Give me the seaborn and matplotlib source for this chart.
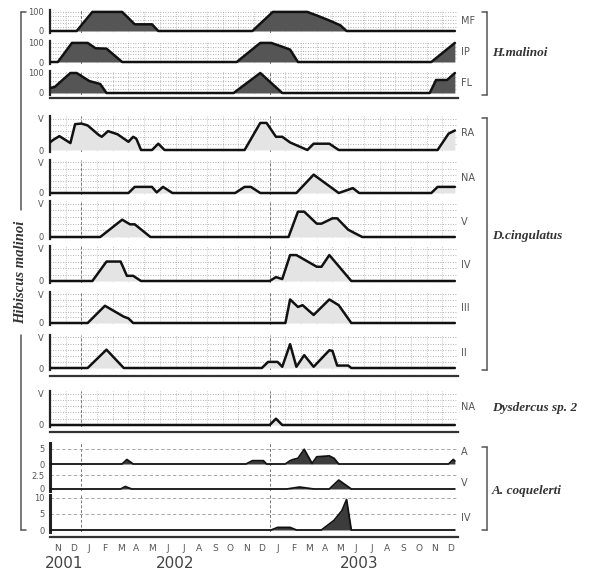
import numpy as np
import pandas as pd
import matplotlib
matplotlib.use('Agg')
import matplotlib.pyplot as plt
import seaborn as sns
from matplotlib.lines import Line2D
from matplotlib.ticker import MultipleLocator

sns.set_style('white')
plt.rcParams['font.family'] = 'DejaVu Sans'

# x axis: months from 1 Nov 2001 (0) to end of Dec 2003 (26)
months = ['N', 'D', 'J', 'F', 'M', 'A', 'M', 'J', 'J', 'A', 'S', 'O', 'N', 'D',
          'J', 'F', 'M', 'A', 'M', 'J', 'J', 'A', 'S', 'O', 'N', 'D']
years = ['2001', '2002', '2003']
year_pos = [0.9, 8.0, 19.7]

# H. malinoi phenology (%)
mf_t = [0, 1.7, 2.7, 4.6, 5.4, 6.5, 6.9, 12.9, 14.2, 16.4, 17.2, 17.8, 18.5, 18.9, 25.8]
mf_v = [0, 0, 100, 100, 35, 35, 0, 0, 100, 100, 75, 55, 30, 0, 0]
ip_t = [0, 0.5, 1.4, 2.4, 2.9, 3.6, 4.6, 11.9, 13.4, 14.1, 14.8, 15.3, 15.8, 24.3, 25.8]
ip_v = [0, 0, 100, 100, 72, 70, 0, 0, 100, 100, 80, 65, 0, 0, 100]
fl_t = [0, 0.3, 1.3, 1.7, 2.5, 3.2, 3.6, 11.7, 13.4, 14.8, 24.2, 24.6, 25.3, 25.8]
fl_v = [25, 30, 100, 100, 60, 45, 0, 0, 100, 0, 0, 65, 65, 100]

# D. cingulatus abundance classes (0-V)
ra_t = [0, 0.2, 0.6, 1.3, 1.6, 2.0, 2.4, 3.1, 3.3, 3.7, 4.3, 5.0, 5.3, 5.5, 5.8, 6.5, 6.9, 7.3,
        12.4, 13.4, 13.8, 14.4, 14.8, 15.3, 16.4, 16.8, 17.8, 18.4, 24.7, 25.4, 25.8]
ra_v = [1.2, 1.6, 2.2, 1.1, 4.1, 4.2, 3.9, 2.4, 2.1, 3.0, 2.5, 1.3, 2.1, 1.8, 0, 0, 1.0, 0,
        0, 4.3, 4.3, 2.1, 2.1, 1.2, 0, 1.0, 1.0, 0, 0, 2.6, 3.1]
na_t = [0, 5.0, 5.4, 6.5, 6.8, 7.2, 7.8, 11.8, 12.4, 12.8, 13.4, 15.7, 16.8, 18.4, 19.3, 19.7,
        24.3, 24.7, 25.8]
na_v = [0, 0, 1.0, 1.0, 0.1, 1.0, 0, 0, 1.0, 1.0, 0, 0, 3.0, 0, 0.8, 0, 0, 1.0, 1.0]
v_t = [0, 3.2, 4.6, 5.1, 5.4, 6.4, 15.2, 15.8, 16.2, 17.0, 17.3, 18.0, 18.3, 19.0, 19.4, 19.9, 25.8]
v_v = [0, 0, 2.6, 1.9, 1.9, 0, 0, 3.8, 3.8, 2.0, 2.0, 2.8, 2.8, 1.1, 0.6, 0, 0]
iv_t = [0, 2.7, 3.6, 4.5, 4.9, 5.3, 5.8, 14.0, 14.4, 14.8, 15.3, 15.7, 17.0, 17.3, 17.8, 19.2, 25.8]
iv_v = [0, 0, 3.0, 3.0, 0.8, 0.8, 0, 0, 0.6, 0.3, 4.0, 4.0, 2.2, 2.2, 4.0, 0, 0]
iii_t = [0, 2.4, 3.5, 4.7, 5.0, 5.3, 15.0, 15.3, 15.8, 16.1, 16.8, 17.8, 18.4, 19.2, 25.8]
iii_v = [0, 0, 3.0, 1.1, 0.8, 0, 0, 4.1, 2.8, 3.1, 1.4, 4.1, 3.1, 0, 0]
ii_t = [0, 2.4, 3.6, 4.7, 13.5, 13.9, 14.5, 14.8, 15.3, 15.7, 16.2, 16.8, 17.8, 18.0, 18.3,
        19.0, 19.2, 25.8]
ii_v = [0, 0, 3.0, 0, 0, 1.0, 1.0, 0.2, 3.9, 0.2, 2.1, 0.2, 2.9, 2.8, 0.4, 0.4, 0, 0]

# Dysdercus sp. 2
dys_t = [0, 14.0, 14.4, 14.8, 25.8]
dys_v = [0, 0, 1.0, 0, 0]

# A. coquelerti
aa_t = [0, 4.6, 4.9, 5.3, 12.5, 12.9, 13.6, 13.8, 15.0, 15.3, 15.5, 15.8, 16.2, 16.4, 16.7,
        17.0, 17.8, 18.1, 18.4, 25.4, 25.7, 25.8]
aa_v = [0, 0, 1.5, 0, 0, 1.1, 1.1, 0, 0, 1.1, 1.5, 1.9, 4.9, 3.0, 0.2, 2.4, 2.7, 1.9, 0, 0, 1.5, 1.0]
av_t = [0, 4.5, 4.8, 5.2, 15.1, 15.9, 16.8, 17.8, 18.4, 19.2, 25.8]
av_v = [0, 0, 0.45, 0, 0, 0.35, 0, 0, 1.6, 0, 0]
aiv_t = [0, 14.1, 14.5, 15.3, 15.7, 17.3, 17.7, 18.1, 18.6, 18.9, 19.2, 25.8]
aiv_v = [0, 0, 0.8, 0.8, 0, 0, 1.5, 3.0, 6.0, 9.5, 0, 0]

W, H = 589, 572
X0, X1 = 50, 458
fig = plt.figure(figsize=(W / 100, H / 100), dpi=100)
GRID = '#9a9a9a'
LABEL = '#555555'


def panel(t, v, top, base, ymax, kind, name, name_y, axis_gap=None, last=False):
    ax = fig.add_axes([X0 / W, 1 - (base + 2) / H, (X1 - X0) / W, (base + 2 - top) / H])
    low = -ymax * 2 / (base - top)
    ax.set_xlim(0, 26)
    ax.set_ylim(low, ymax)
    df = pd.DataFrame({'t': t, 'v': v})
    if kind == 'host':
        fill, lw = '#555555', 1.8
    elif kind == 'bug':
        fill, lw = '#e4e4e4', 1.8
    else:
        fill, lw = '#3c3c3c', 1.3
    ax.fill_between(df['t'], 0, df['v'], color=fill, lw=0, zorder=2)
    sns.lineplot(data=df, x='t', y='v', ax=ax, color='#111111', lw=lw, zorder=3)
    ax.set_xlabel('')
    ax.set_ylabel('')

    for s in ['top', 'right', 'bottom']:
        ax.spines[s].set_visible(False)
    ax.spines['left'].set_linewidth(1.6 if kind != 'acoq' else 2.2)
    ax.spines['left'].set_color('#222222')

    if kind == 'host':
        ax.set_yticks([0, 100])
        ax.set_yticklabels(['0', '100'])
        ax.yaxis.set_minor_locator(MultipleLocator(20))
    elif kind == 'bug':
        ax.set_yticks([0, 5])
        ax.set_yticklabels(['0', 'V'])
        ax.yaxis.set_minor_locator(MultipleLocator(0.5))
    ax.tick_params(axis='y', which='both', direction='out', labelsize=6, colors='#333333',
                   labelcolor=LABEL, length=2.5, width=0.8, pad=2)
    ax.tick_params(axis='y', which='minor', length=1.5)

    if kind in ('host', 'bug'):
        for yv in (np.arange(20, 101, 20) if kind == 'host' else np.arange(1, 5.1, 1)):
            ax.axhline(yv, color=GRID, ls=(0, (1, 2)), lw=0.6, zorder=1)
        for xv in range(1, 26):
            ax.axvline(xv, color=GRID, ls=(0, (1, 2)), lw=0.5, zorder=1)
        ax.axvline(26, color=GRID, ls=(0, (1, 2)), lw=0.6, zorder=1)
    for xv in (2, 14):
        ax.axvline(xv, color='#777777', ls=(0, (3, 2)), lw=0.7, zorder=1)

    ax.set_xticks(range(27))
    if axis_gap is None:
        ax.tick_params(axis='x', length=0, labelbottom=False)
    else:
        ax.spines['bottom'].set_visible(True)
        ax.spines['bottom'].set_position(('outward', axis_gap * 0.72))
        ax.spines['bottom'].set_linewidth(1.6)
        ax.spines['bottom'].set_color('#333333')
        ax.tick_params(axis='x', which='major', direction='out', length=3, width=0.8,
                       colors='#333333', labelbottom=False)
    if last:
        ax.set_xticks(np.arange(26) + 0.5, minor=True)
        ax.set_xticklabels(months, minor=True)
        ax.tick_params(axis='x', which='minor', length=0, labelsize=6.5,
                       labelcolor=LABEL, pad=5)
    fig.text(461 / W, 1 - name_y / H, name, fontsize=7, color=LABEL,
             ha='left', va='center')
    return ax


panel(mf_t, mf_v, 10, 31, 110, 'host', 'MF', 21)
panel(ip_t, ip_v, 41, 62, 110, 'host', 'IP', 52)
panel(fl_t, fl_v, 71, 93, 110, 'host', 'FL', 83, axis_gap=3)

panel(ra_t, ra_v, 116, 150, 5.4, 'bug', 'RA', 133)
panel(na_t, na_v, 160, 193, 5.4, 'bug', 'NA', 178)
panel(v_t, v_v, 201, 237, 5.4, 'bug', 'V', 222)
panel(iv_t, iv_v, 246, 281, 5.4, 'bug', 'IV', 265)
panel(iii_t, iii_v, 292, 323, 5.4, 'bug', 'III', 308)
panel(ii_t, ii_v, 335, 368, 5.4, 'bug', 'II', 353, axis_gap=6)

panel(dys_t, dys_v, 391, 425, 5.4, 'bug', 'NA', 407, axis_gap=5)

# A. coquelerti panels with their own count scales
acoq = [
    (aa_t, aa_v, 443, 464, 7, 'A', 452, None, False, [0, 5], ['0', '5']),
    (av_t, av_v, 469, 489, 3.6, 'V', 483, None, False, [0, 2.5], ['0', '2.5']),
    (aiv_t, aiv_v, 495, 530, 10.9, 'IV', 518, 5, True, [0, 5, 10], ['0', '5', '10']),
]
for t, v, top, base, ymax, name, ny, gap, last, ticks, labels in acoq:
    a = panel(t, v, top, base, ymax, 'acoq', name, ny, axis_gap=gap, last=last)
    a.set_yticks(ticks)
    a.set_yticklabels(labels)
    for yv in ticks[1:]:
        a.axhline(yv, color=GRID, ls=(0, (4, 3)), lw=0.6, zorder=1)
    a.tick_params(axis='y', labelsize=6, labelcolor=LABEL, length=0, pad=4)

# years under the month labels
for yr, pos in zip(years, year_pos):
    fig.text((X0 + pos * (X1 - X0) / 26) / W, 1 - 563 / H, yr, fontsize=11,
             color='#444444', ha='center', va='center')


# group brackets and names on the right
def bracket(x, y0, y1, side=1):
    fx = x / W
    fig.add_artist(Line2D([fx, fx], [1 - y0 / H, 1 - y1 / H], color='#555555', lw=1.1))
    for yy in (y0, y1):
        fig.add_artist(Line2D([fx, fx - side * 5 / W], [1 - yy / H, 1 - yy / H],
                              color='#555555', lw=1.1))


serif = dict(family='Liberation Serif', style='italic', weight='bold', color='#333333')
bracket(487, 12, 95)
fig.text(492 / W, 1 - 53 / H, 'H.malinoi', fontsize=9.5, va='center', **serif)
bracket(487, 118, 370)
fig.text(492 / W, 1 - 236 / H, 'D.cingulatus', fontsize=9.5, va='center', **serif)
fig.text(492 / W, 1 - 408 / H, 'Dysdercus sp. 2', fontsize=9.5, va='center', **serif)
bracket(487, 447, 530)
fig.text(492 / W, 1 - 491 / H, 'A. coquelerti', fontsize=9.5, va='center', **serif)

# host plant bracket on the left
fx = 21 / W
fig.add_artist(Line2D([fx, fx], [1 - 12 / H, 1 - 210 / H], color='#555555', lw=1.1))
fig.add_artist(Line2D([fx, fx], [1 - 335 / H, 1 - 530 / H], color='#555555', lw=1.1))
for yy in (12, 530):
    fig.add_artist(Line2D([fx, fx + 5 / W], [1 - yy / H, 1 - yy / H], color='#555555', lw=1.1))
fig.text(fx, 1 - 272 / H, 'Hibiscus malinoi', fontsize=10.5, rotation=90,
         ha='center', va='center', **serif)

fig.savefig('out.png', dpi=100)
